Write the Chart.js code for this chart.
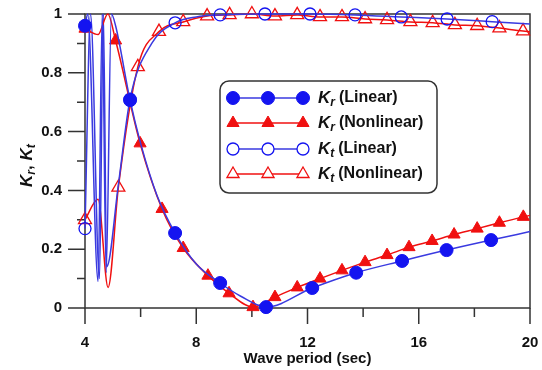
<!DOCTYPE html>
<html>
<head>
<meta charset="utf-8">
<script src="https://cdn.jsdelivr.net/npm/chart.js@4.4.1/dist/chart.umd.min.js"></script>
<style>
    html, body { margin: 0; padding: 0; background: #fff; }
    #wrap { width: 542px; height: 370px; }
</style>
</head>
<body>
<div id="wrap"><canvas id="chart_k"></canvas></div>
<script>
// values (wave period in sec, coefficient)
var krLinX = [4.0, 4.1, 4.47, 4.62, 4.76, 4.95, 5.1, 5.62, 6.0, 6.6, 7.24, 8.0, 8.86, 9.6, 10.51, 12.17, 13.75, 15.4, 17.0, 18.6, 20.0];
var krLinY = [0.96, 1.0, 0.09, 1.0, 0.12, 1.0, 0.96, 0.707, 0.56, 0.38, 0.255, 0.15, 0.085, 0.04, 0.003, 0.068, 0.12, 0.16, 0.197, 0.231, 0.26];
var krLinMark = [1, 0, 0, 0, 0, 0, 0, 1, 0, 0, 1, 0, 1, 0, 1, 1, 1, 1, 1, 1, 0];

var krNonX = [4.0, 4.47, 4.82, 5.1, 5.98, 6.77, 7.53, 8.42, 9.18, 10.04, 10.83, 11.63, 12.45, 13.24, 14.07, 14.86, 15.65, 16.48, 17.27, 18.1, 18.9, 19.76, 20.0];
var krNonY = [0.95, 0.93, 1.0, 0.91, 0.56, 0.337, 0.204, 0.11, 0.05, 0.003, 0.037, 0.07, 0.1, 0.128, 0.156, 0.18, 0.207, 0.228, 0.25, 0.27, 0.29, 0.31, 0.315];
var krNonMark = [1, 0, 0, 1, 1, 1, 1, 1, 1, 1, 1, 1, 1, 1, 1, 1, 1, 1, 1, 1, 1, 1, 0];

var ktLinX = [4.0, 4.2, 4.52, 4.66, 4.78, 5.2, 5.62, 6.4, 7.24, 8.0, 8.86, 10.47, 12.09, 13.71, 15.37, 17.02, 18.64, 20.0];
var ktLinY = [0.27, 1.0, 0.1, 1.0, 0.14, 0.42, 0.71, 0.9, 0.97, 0.99, 0.997, 1.0, 1.0, 0.997, 0.99, 0.983, 0.974, 0.966];
var ktLinMark = [1, 0, 0, 0, 0, 0, 1, 0, 1, 0, 1, 1, 1, 1, 1, 1, 1, 0];

var ktNonX = [4.0, 4.47, 4.83, 5.2, 5.9, 6.66, 7.53, 8.39, 9.2, 10.0, 10.83, 11.63, 12.45, 13.24, 14.07, 14.86, 15.7, 16.5, 17.3, 18.1, 18.9, 19.75, 20.0];
var ktNonY = [0.30, 0.37, 0.07, 0.41, 0.82, 0.94, 0.973, 0.993, 0.997, 1.0, 0.993, 0.997, 0.99, 0.99, 0.983, 0.98, 0.973, 0.97, 0.963, 0.96, 0.952, 0.942, 0.94];
var ktNonMark = [1, 0, 0, 1, 1, 1, 1, 1, 1, 1, 1, 1, 1, 1, 1, 1, 1, 1, 1, 1, 1, 1, 0];

var xMajor = [4, 8, 12, 16, 20];
var xMinor = [6, 10, 14, 18];
var yMajor = [0, 0.2, 0.4, 0.6, 0.8, 1];
var yMinor = [0.1, 0.3, 0.5, 0.7, 0.9];

var legendSub = ['r', 'r', 't', 't'];
var legendText = ['(Linear)', '(Nonlinear)', '(Linear)', '(Nonlinear)'];

var FONT = '"Liberation Sans", Arial, sans-serif';
var BLUE = '#1414f0';
var BLUE_LINE = '#3a3ae0';
var RED = '#f01010';
var AXIS = '#333';

function pts(xs, ys) {
    return xs.map(function (x, i) { return { x: x, y: ys[i] }; });
}
function radii(flags, r) {
    return flags.map(function (f) { return f ? r : 0; });
}

// Kr linear, Kr nonlinear, Kt linear, Kt nonlinear
var series = [
    { label: 'Kr (Linear)', data: pts(krLinX, krLinY), borderColor: BLUE_LINE, pointBorderColor: BLUE,
      pointBackgroundColor: BLUE, pointStyle: 'circle', pointRadius: radii(krLinMark, 6.5), pointBorderWidth: 1 },
    { label: 'Kr (Nonlinear)', data: pts(krNonX, krNonY), borderColor: RED, pointBorderColor: RED,
      pointBackgroundColor: RED, pointStyle: 'triangle', pointRadius: radii(krNonMark, 7), pointBorderWidth: 1 },
    { label: 'Kt (Linear)', data: pts(ktLinX, ktLinY), borderColor: BLUE_LINE, pointBorderColor: BLUE,
      pointBackgroundColor: 'rgba(255,255,255,0)', pointStyle: 'circle', pointRadius: radii(ktLinMark, 6), pointBorderWidth: 1.3 },
    { label: 'Kt (Nonlinear)', data: pts(ktNonX, ktNonY), borderColor: RED, pointBorderColor: RED,
      pointBackgroundColor: 'rgba(255,255,255,0)', pointStyle: 'triangle', pointRadius: radii(ktNonMark, 7.5), pointBorderWidth: 1.3 }
];
series.forEach(function (s) {
    s.borderWidth = 1.5;
    s.fill = false;
    s.cubicInterpolationMode = 'monotone';
    s.clip = false;
    s.pointHoverRadius = 0;
});

function drawMarker(ctx, style, filled, color, x, y, r) {
    ctx.beginPath();
    if (style === 'circle') {
        ctx.arc(x, y, r, 0, Math.PI * 2);
    } else {
        var rad = 0;
        for (var k = 0; k < 3; k++) {
            var px = x + Math.sin(rad) * r, py = y - Math.cos(rad) * r;
            if (k === 0) ctx.moveTo(px, py); else ctx.lineTo(px, py);
            rad += Math.PI * 2 / 3;
        }
        ctx.closePath();
    }
    ctx.fillStyle = filled ? color : '#fff';
    ctx.fill();
    ctx.strokeStyle = color;
    ctx.lineWidth = filled ? 1 : 1.3;
    ctx.stroke();
}

// frame and tick marks (major long, minor short)
var frameTicks = {
    id: 'frameTicks',
    beforeDatasetsDraw: function (chart) {
        var ctx = chart.ctx, a = chart.chartArea;
        var xs = chart.scales.x, ys = chart.scales.y;
        ctx.save();
        ctx.strokeStyle = AXIS;
        ctx.lineWidth = 1.5;
        ctx.strokeRect(a.left, a.top, a.right - a.left, a.bottom - a.top);
        ctx.beginPath();
        yMajor.forEach(function (v) {
            var p = ys.getPixelForValue(v);
            ctx.moveTo(a.left - 17, p); ctx.lineTo(a.left, p);
        });
        yMinor.forEach(function (v) {
            var p = ys.getPixelForValue(v);
            ctx.moveTo(a.left - 8, p); ctx.lineTo(a.left, p);
        });
        xMajor.forEach(function (v) {
            var p = xs.getPixelForValue(v);
            ctx.moveTo(p, a.bottom); ctx.lineTo(p, a.bottom + 16);
        });
        xMinor.forEach(function (v) {
            var p = xs.getPixelForValue(v);
            ctx.moveTo(p, a.bottom); ctx.lineTo(p, a.bottom + 9);
        });
        ctx.stroke();
        ctx.restore();
    }
};

function drawKSub(ctx, x, y, sub, size) {
    ctx.font = 'italic bold ' + size + 'px ' + FONT;
    ctx.fillText('K', x, y);
    var w = ctx.measureText('K').width;
    ctx.font = 'italic bold ' + Math.round(size * 0.7) + 'px ' + FONT;
    ctx.fillText(sub, x + w, y + size * 0.28);
    return w + ctx.measureText(sub).width;
}

var legendAndTitle = {
    id: 'legendAndTitle',
    afterDraw: function (chart) {
        var ctx = chart.ctx;
        ctx.save();
        // y axis title, rotated
        ctx.translate(27, (chart.chartArea.top + chart.chartArea.bottom) / 2);
        ctx.rotate(-Math.PI / 2);
        ctx.fillStyle = '#111';
        ctx.textBaseline = 'middle';
        ctx.textAlign = 'left';
        var x0 = -26;
        x0 += drawKSub(ctx, x0, 0, 'r', 17);
        ctx.font = 'bold 17px ' + FONT;
        ctx.fillText(', ', x0, 0);
        x0 += ctx.measureText(', ').width;
        drawKSub(ctx, x0, 0, 't', 17);
        ctx.restore();

        // legend box
        ctx.save();
        ctx.beginPath();
        ctx.roundRect(220, 81, 217, 112, 9);
        ctx.fillStyle = '#fff';
        ctx.fill();
        ctx.strokeStyle = AXIS;
        ctx.lineWidth = 1.5;
        ctx.stroke();
        var rows = [98, 123, 149, 174];
        chart.data.datasets.forEach(function (ds, i) {
            var y = rows[i];
            ctx.beginPath();
            ctx.moveTo(233, y); ctx.lineTo(303, y);
            ctx.strokeStyle = ds.borderColor;
            ctx.lineWidth = 1.5;
            ctx.stroke();
            var filled = ds.pointBackgroundColor !== 'rgba(255,255,255,0)';
            var r = ds.pointStyle === 'circle' ? (filled ? 6.5 : 6) : 7;
            [233, 268, 303].forEach(function (mx) {
                drawMarker(ctx, ds.pointStyle, filled, ds.pointBorderColor, mx, y, r);
            });
            ctx.fillStyle = '#111';
            ctx.textBaseline = 'middle';
            ctx.textAlign = 'left';
            var w = drawKSub(ctx, 318, y, legendSub[i], 17);
            ctx.font = 'bold 16px ' + FONT;
            ctx.fillText(legendText[i], 318 + w + 4, y);
        });
        ctx.restore();
    }
};

function noPad(scale) {
    scale.paddingTop = 0;
    scale.paddingBottom = 0;
    scale.paddingLeft = 0;
    scale.paddingRight = 0;
}

var ctxK = document.getElementById('chart_k').getContext('2d');
var chartK = new Chart(ctxK, {
    type: 'line',
    data: { datasets: series },
    options: {
        responsive: true,
        maintainAspectRatio: false,
        animation: false,
        layout: { autoPadding: false, padding: { top: 14, right: 12, left: 0, bottom: 0 } },
        plugins: {
            legend: { display: false },
            tooltip: { enabled: false }
        },
        scales: {
            x: {
                type: 'linear',
                min: 4,
                max: 20,
                afterFit: function (scale) { scale.height = 62; noPad(scale); },
                grid: { display: false, drawTicks: false },
                border: { display: false },
                ticks: {
                    stepSize: 4,
                    padding: 26,
                    color: '#111',
                    font: { family: FONT, size: 15, weight: 'bold' }
                },
                title: {
                    display: true,
                    text: 'Wave period (sec)',
                    color: '#111',
                    padding: { top: 0, bottom: 2 },
                    font: { family: FONT, size: 15, weight: 'bold' }
                }
            },
            y: {
                min: 0,
                max: 1,
                afterFit: function (scale) { scale.width = 85; noPad(scale); },
                grid: { display: false, drawTicks: false },
                border: { display: false },
                ticks: {
                    stepSize: 0.2,
                    padding: 23,
                    color: '#111',
                    font: { family: FONT, size: 15, weight: 'bold' },
                    callback: function (value) {
                        return (value === 0 || value === 1) ? String(value) : value.toFixed(1);
                    }
                }
            }
        }
    },
    plugins: [frameTicks, legendAndTitle]
});
</script>
</body>
</html>
